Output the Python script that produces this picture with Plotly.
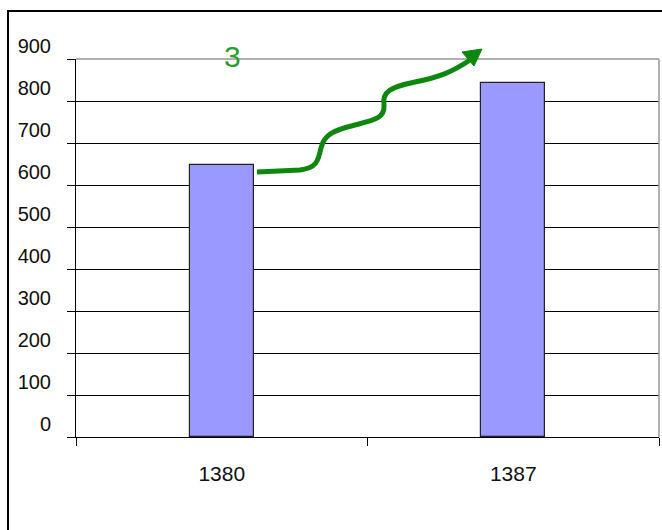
import plotly.graph_objects as go

categories = ["1380", "1387"]
values = [648, 844]
y_ticks = [0, 100, 200, 300, 400, 500, 600, 700, 800, 900]
note_text = "3"

# plot area in pixels (for decoration conversion)
L, R, T, B = 76, 659, 59, 437
W, H = 662, 530

def px(x):
    return (x - L) / (R - L)

def py(y):
    return (B - y) / (B - T)

fig = go.Figure()
fig.add_trace(go.Bar(
    x=categories, y=values, width=0.22,
    marker=dict(color="#9999FF", line=dict(color="#222222", width=1.2)),
    showlegend=False, hoverinfo="skip",
))

fam = "Liberation Sans Narrow, Arial Narrow, Liberation Sans, Arial, sans-serif"
xfont = dict(family=fam, size=21, color="#111111")
yfont = dict(family=fam, size=20, color="#111111")

fig.update_layout(
    width=W, height=H,
    margin=dict(l=L, r=W - R, t=T, b=H - B, pad=0),
    paper_bgcolor="white", plot_bgcolor="white",
    bargap=0,
    xaxis=dict(
        type="category", range=[-0.5, 1.5], showgrid=False,
        showline=True, linecolor="black", linewidth=1,
        ticks="outside", ticklen=8, tickcolor="black", tickwidth=1,
        tickson="boundaries", tickfont=xfont, ticklabelstandoff=18,
    ),
    yaxis=dict(
        range=[0, 900], tickvals=y_ticks, showgrid=True, gridcolor="black", gridwidth=1,
        showline=True, linecolor="black", linewidth=1, zeroline=False,
        ticks="outside", ticklen=8, tickcolor="black", tickwidth=1,
        tickfont=yfont, ticklabelstandoff=12, ticklabelshift=-13,
    ),
)

# plot-area border (gray top & right)
fig.add_shape(type="line", xref="paper", yref="paper", x0=0, x1=1, y0=1, y1=1,
              line=dict(color="#999999", width=1.5), layer="above")
fig.add_shape(type="line", xref="paper", yref="paper", x0=1, x1=1, y0=0, y1=1,
              line=dict(color="#999999", width=1.5), layer="above")

# outer chart border
fig.add_shape(type="rect", xref="paper", yref="paper",
              x0=px(8), x1=px(W + 20), y0=py(H + 20), y1=py(11),
              line=dict(color="black", width=2), fillcolor="rgba(0,0,0,0)", layer="above")

# curvy green arrow (decoration)
pts = [
    ("M", [(257, 172)]),
    ("L", [(300, 170)]),
    ("C", [(316, 168), (318, 162), (321, 148)]),
    ("C", [(324, 134), (335, 130), (355, 125)]),
    ("C", [(375, 120), (385, 118), (384, 105)]),
    ("C", [(382, 92), (390, 87), (415, 82)]),
    ("C", [(440, 77), (452, 72), (470, 60)]),
]
path = ""
for cmd, ps in pts:
    path += cmd + " " + " ".join(f"{px(x):.5f},{py(y):.5f}" for x, y in ps) + " "
fig.add_shape(type="path", xref="paper", yref="paper", path=path,
              line=dict(color="#0D870D", width=5), layer="above")
head = f"M {px(482):.5f},{py(49):.5f} L {px(462):.5f},{py(52):.5f} L {px(474):.5f},{py(66):.5f} Z"
fig.add_shape(type="path", xref="paper", yref="paper", path=head,
              line=dict(color="#0D870D", width=1), fillcolor="#0D870D", layer="above")

# "3" label
afont = "Liberation Sans, Arial, sans-serif"
fig.add_annotation(xref="paper", yref="paper", x=px(233), y=py(56), text=note_text,
                   xanchor="center", yanchor="middle", showarrow=False,
                   font=dict(family=afont, size=30, color="#2E9B2E"))

fig.write_html("out.html")
